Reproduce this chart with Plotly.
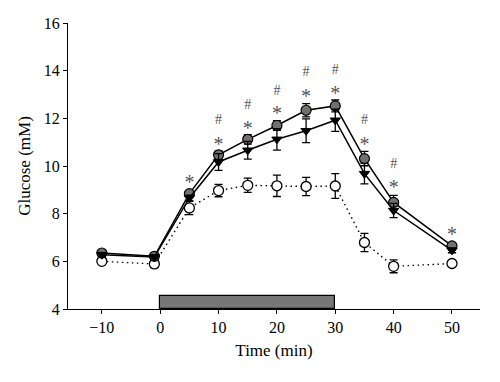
import plotly.graph_objects as go

# ---- data ----
time = [-10, -1, 5, 10, 15, 20, 25, 30, 35, 40, 50]

grey_mean = [6.35, 6.21, 8.84, 10.47, 11.12, 11.70, 12.34, 12.52, 10.31, 8.47, 6.65]
grey_err = [0.08, 0.08, 0.12, 0.15, 0.20, 0.20, 0.28, 0.25, 0.30, 0.30, 0.10]

tri_mean = [6.28, 6.18, 8.66, 10.17, 10.66, 11.12, 11.48, 11.92, 9.68, 8.13, 6.46]
tri_err = [0.08, 0.08, 0.12, 0.35, 0.37, 0.45, 0.50, 0.47, 0.43, 0.30, 0.10]

open_mean = [6.00, 5.89, 8.24, 8.97, 9.19, 9.17, 9.14, 9.16, 6.79, 5.79, 5.91]
open_err = [0.12, 0.15, 0.28, 0.26, 0.30, 0.45, 0.38, 0.52, 0.38, 0.27, 0.10]

star_x = [5, 10, 15, 20, 25, 30, 35, 40, 50]
star_y = [9.23, 10.83, 11.53, 12.12, 12.86, 12.97, 10.83, 9.02, 7.06]
hash_x = [10, 15, 20, 25, 30, 35, 40]
hash_y = [11.89, 12.54, 13.13, 13.91, 14.01, 11.89, 10.05]

stim_start, stim_end, stim_top = 0, 30, 4.55

x_ticks = [-10, 0, 10, 20, 30, 40, 50]
x_tick_labels = ["\u221210", "0", "10", "20", "30", "40", "50"]
y_ticks = [4, 6, 8, 10, 12, 14, 16]

FONT = "Liberation Serif"

fig = go.Figure()

# stimulus bar
fig.add_trace(go.Bar(
    x=[(stim_start + stim_end) / 2], y=[stim_top - 4], base=[4],
    width=[stim_end - stim_start],
    marker=dict(color="#777777", line=dict(color="black", width=1.2)),
    hoverinfo="skip", showlegend=False,
))

# open circles, dotted
fig.add_trace(go.Scatter(
    x=time, y=open_mean, mode="lines+markers",
    line=dict(color="black", width=1.4, dash="1.5px,3.5px"),
    marker=dict(symbol="circle", size=10, color="white", line=dict(color="black", width=1.3)),
    error_y=dict(type="data", array=open_err, color="black", thickness=1.3, width=4),
    showlegend=False,
))

# grey circles
fig.add_trace(go.Scatter(
    x=time, y=grey_mean, mode="lines+markers",
    line=dict(color="black", width=1.5),
    marker=dict(symbol="circle", size=10, color="#707070", line=dict(color="black", width=1.2)),
    error_y=dict(type="data", array=grey_err, color="black", thickness=1.3, width=4),
    showlegend=False,
))

# triangles
fig.add_trace(go.Scatter(
    x=time, y=tri_mean, mode="lines+markers",
    line=dict(color="black", width=1.5),
    marker=dict(symbol="triangle-down", size=9, color="black", line=dict(color="black", width=1)),
    error_y=dict(type="data", array=tri_err, color="black", thickness=1.3, width=4),
    showlegend=False,
))

# significance marks
fig.add_trace(go.Scatter(
    x=star_x, y=star_y, mode="text", text=["*"] * len(star_x),
    textposition="middle center",
    textfont=dict(family=FONT, size=20, color="#555555"),
    hoverinfo="skip", showlegend=False,
))
fig.add_trace(go.Scatter(
    x=hash_x, y=hash_y, mode="text", text=["#"] * len(hash_x),
    textposition="middle center",
    textfont=dict(family=FONT, size=14, color="#555555"),
    hoverinfo="skip", showlegend=False,
))

# the page body adds an 8px offset, so the margins compensate for it
fig.update_layout(
    width=500, height=382,
    margin=dict(l=60, r=28, t=15, b=81),
    paper_bgcolor="white", plot_bgcolor="white",
    font=dict(family=FONT, size=16, color="black"),
    bargap=0,
    xaxis=dict(
        range=[-15.8, 54.8], tickmode="array", tickvals=x_ticks, ticktext=x_tick_labels,
        showline=True, linecolor="black", linewidth=1.3,
        ticks="outside", ticklen=4, tickcolor="black", tickwidth=1.3,
        showgrid=False, zeroline=False, automargin=False,
        title=dict(text="Time (min)", standoff=8, font=dict(family=FONT, size=17)),
    ),
    yaxis=dict(
        range=[4, 16], tickmode="array", tickvals=y_ticks,
        showline=True, linecolor="black", linewidth=1.3,
        ticks="outside", ticklen=4, tickcolor="black", tickwidth=1.3,
        showgrid=False, zeroline=False, automargin=False,
        title=dict(text="Glucose (mM)", standoff=8, font=dict(family=FONT, size=17)),
    ),
)

fig.write_html("out.html")
